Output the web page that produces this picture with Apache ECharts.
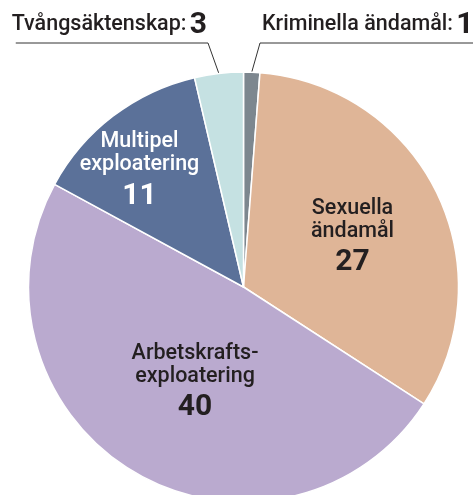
<!DOCTYPE html>
<html>
<head>
<meta charset="utf-8">
<script src="https://cdn.jsdelivr.net/npm/echarts@6/dist/echarts.min.js"></script>
<style>
  html, body { margin: 0; padding: 0; background: #fff; }
  #chart { width: 473px; height: 495px; }
</style>
</head>
<body>
<div id="chart"></div>
<script>
// Data, clockwise from 12 o'clock
const categories = ['Kriminella ändamål', 'Sexuella\nändamål', 'Arbetskrafts-\nexploatering', 'Multipel\nexploatering', 'Tvångsäktenskap']
const values = [1, 27, 40, 11, 3]
const sliceColors = ['#7d878f', '#dfb597', '#baaacf', '#5b7199', '#c5e1e2']
const outsideLabel = [true, false, false, false, true]

const FONT = "Roboto, 'Noto Sans', sans-serif"
const TEXT = '#231f20'

// nudges for the inside labels (dx, dy)
const insideShift = [null, [10, 2], [8, 3], [-37, -26], null]

const chart = echarts.init(document.getElementById('chart'), null, { renderer: 'canvas' })

const data = categories.map((name, i) => {
    const light = i === 3
    const item = {
        name,
        value: values[i],
        itemStyle: { color: sliceColors[i] }
    }
    if (outsideLabel[i]) {
        item.label = {
            position: 'outside',
            formatter: '{n|{b}:} {v|{c}}',
            rich: {
                n: { fontFamily: FONT, fontSize: 21.5, fontWeight: 500, color: TEXT },
                v: { fontFamily: FONT, fontSize: 30, fontWeight: 'bold', color: TEXT }
            }
        }
        item.labelLine = { show: true, lineStyle: { color: '#333', width: 1 } }
    } else {
        item.label = {
            position: 'inside',
            formatter: '{t|{b}}\n{v|{c}}',
            rich: {
                t: { fontFamily: FONT, fontSize: 21.5, fontWeight: 500, lineHeight: 23, color: light ? '#fff' : TEXT, align: 'center' },
                v: { fontFamily: FONT, fontSize: 30, fontWeight: 'bold', lineHeight: 40, color: light ? '#fff' : TEXT, align: 'center' }
            }
        }
        item.labelLine = { show: false }
    }
    return item
})

chart.setOption({
    animation: false,
    series: [{
        type: 'pie',
        center: [243.5, 287],
        radius: 215,
        startAngle: 90,
        clockwise: true,
        avoidLabelOverlap: false,
        itemStyle: { borderColor: '#fff', borderWidth: 1.5 },
        label: { show: true },
        data,
        labelLayout: function (params) {
            const i = params.dataIndex
            if (!outsideLabel[i]) {
                const s = insideShift[i]
                return { dx: s[0], dy: s[1] }
            }
            const p0 = params.labelLinePoints[0]
            const w = params.labelRect.width
            const lineY = 43
            if (i === 4) {
                // label sits left of the pie, underlined out to the left
                const x = 207
                return {
                    x, y: 40, align: 'right', verticalAlign: 'bottom',
                    labelLinePoints: [p0, [x + 1, lineY], [x - w + 4, lineY]]
                }
            }
            const x = 262
            return {
                x, y: 40, align: 'left', verticalAlign: 'bottom',
                labelLinePoints: [p0, [x - 2, lineY], [chart.getWidth(), lineY]]
            }
        }
    }]
})
</script>
</body>
</html>
